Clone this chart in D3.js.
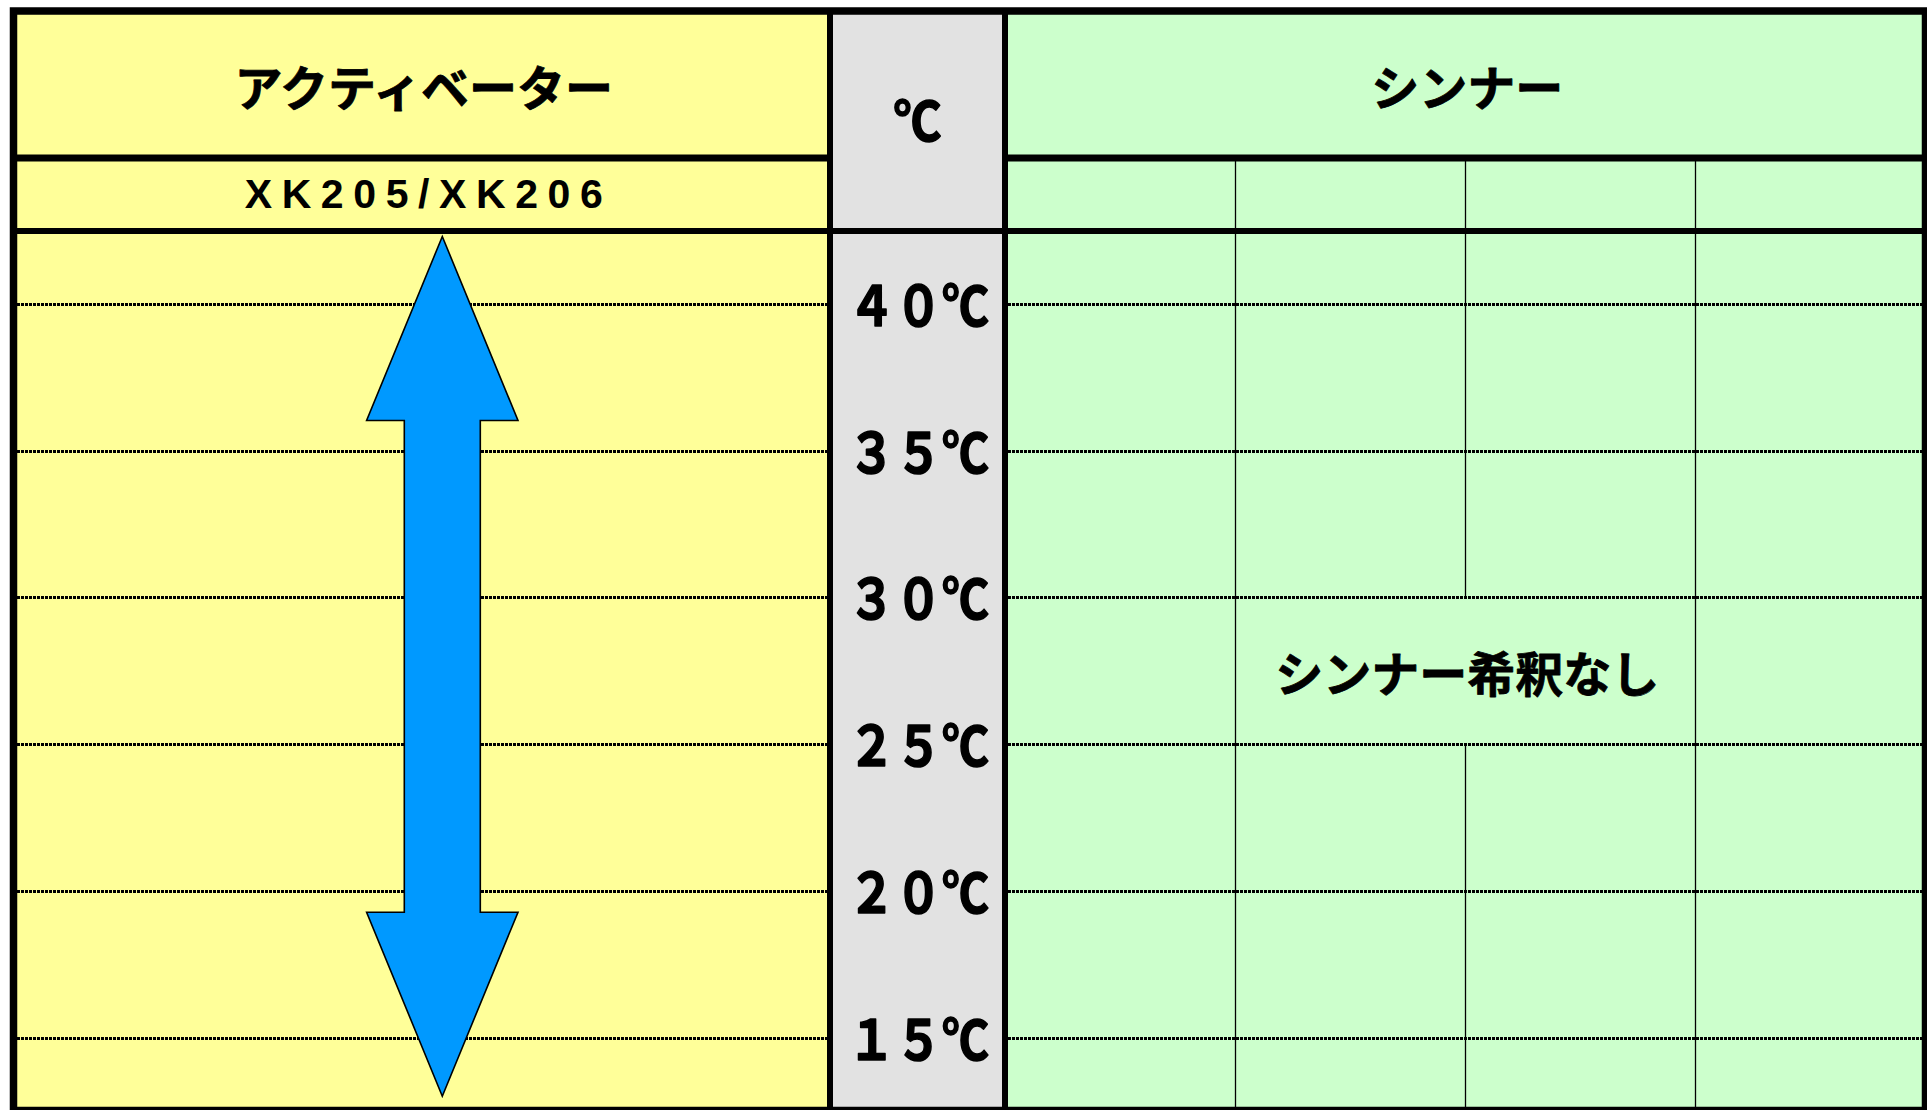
<!DOCTYPE html>
<html lang="ja">
<head>
<meta charset="utf-8">
<script src="https://cdn.jsdelivr.net/npm/d3@7"></script>
<style>
  html, body { margin: 0; padding: 0; background: #ffffff; overflow: hidden; }
  svg { display: block; }
</style>
</head>
<body>
<svg id="chart" width="1927" height="1110"></svg>
<script>
// ---------------- data ----------------
const headerLabels   = ["アクティベーター", "℃", "シンナー"];
const activatorCodes = ["XK205/XK206"];
const tempTicks      = [40, 35, 30, 25, 20, 15];
const tickLabels     = ["４０℃", "３５℃", "３０℃", "２５℃", "２０℃", "１５℃"];
const activatorRange = [13, 42.3];          // usable temperature range (arrow)
const thinnerColumns = ["", "", "", ""];     // four (empty) thinner sub-columns
const thinnerNote    = "シンナー希釈なし";
const thinnerNoteCols  = [1, 2];             // merged sub-columns
const thinnerNoteTemps = [30, 25];           // merged temperature band

// ---------------- layout ----------------
const W = 1927, H = 1110;
const box = { left: 13.5, top: 11, right: 1925.5, bottom: 1110.5 };
const colA = 830, colB = 1005;               // column dividers
const hdr1 = 158, hdr2 = 231;                // header row dividers
const colors = { yellow: "#FFFF99", gray: "#E2E2E2", green: "#CCFFCC", blue: "#0099FF", ink: "#000000" };
const jp = "'Noto Sans CJK JP', 'Noto Sans CJK SC', sans-serif";
const latin = "'Liberation Sans', Arial, sans-serif";

const svg = d3.select("#chart");

// temperature scale (vertical)
const y = d3.scaleLinear().domain([15, 40]).range([1037.5, 304]);
// thinner sub-column scale
const xThin = d3.scaleBand().domain(d3.range(thinnerColumns.length)).range([colB, box.right]).padding(0);

// ---------------- backgrounds ----------------
svg.append("rect").attr("x", box.left).attr("y", box.top).attr("width", colA - box.left).attr("height", box.bottom - box.top).attr("fill", colors.yellow);
svg.append("rect").attr("x", colA).attr("y", box.top).attr("width", colB - colA).attr("height", box.bottom - box.top).attr("fill", colors.gray);
svg.append("rect").attr("x", colB).attr("y", box.top).attr("width", box.right - colB).attr("height", box.bottom - box.top).attr("fill", colors.green);

// ---------------- thin vertical lines in thinner area ----------------
const mergeX0 = xThin(thinnerNoteCols[0]), mergeX1 = xThin(thinnerNoteCols[1]) + xThin.bandwidth();
const mergeY0 = y(thinnerNoteTemps[0]), mergeY1 = y(thinnerNoteTemps[1]);
const innerIdx = d3.range(1, thinnerColumns.length);
const segs = [];
innerIdx.forEach(i => {
  const x = Math.round(xThin(i)) + 0.5;
  if (x > mergeX0 + 1 && x < mergeX1 - 1) {
    segs.push({ x, y0: hdr1, y1: mergeY0 });
    segs.push({ x, y0: mergeY1, y1: box.bottom });
  } else {
    segs.push({ x, y0: hdr1, y1: box.bottom });
  }
});
svg.append("g").selectAll("line").data(segs).join("line")
  .attr("x1", d => d.x).attr("x2", d => d.x)
  .attr("y1", d => d.y0).attr("y2", d => d.y1)
  .attr("stroke", colors.ink).attr("stroke-width", 1.3);

// ---------------- dotted temperature lines ----------------
const dotSpans = [[box.left + 3.5, colA - 3], [colB + 3, box.right - 3.5]];
const dotted = svg.append("g");
const snapY = d => Math.round(y(d)) + 0.5;
dotSpans.forEach(span => {
  dotted.append("g").selectAll("line").data(tempTicks).join("line")
    .attr("x1", span[0]).attr("x2", span[1])
    .attr("y1", snapY).attr("y2", snapY)
    .attr("stroke", colors.ink).attr("stroke-width", 3)
    .attr("stroke-dasharray", "3,1");
});

// ---------------- arrow (activator usable range) ----------------
const ax = 442.3, headLen = 184, headHalf = 75.7, shaftHalf = 38;
const tTop = y(activatorRange[1]), tBot = y(activatorRange[0]);
const pts = [
  [ax, tTop], [ax + headHalf, tTop + headLen], [ax + shaftHalf, tTop + headLen],
  [ax + shaftHalf, tBot - headLen], [ax + headHalf, tBot - headLen], [ax, tBot],
  [ax - headHalf, tBot - headLen], [ax - shaftHalf, tBot - headLen],
  [ax - shaftHalf, tTop + headLen], [ax - headHalf, tTop + headLen]
];
svg.append("path")
  .attr("d", d3.line()(pts) + "Z")
  .attr("fill", colors.blue).attr("stroke", colors.ink).attr("stroke-width", 1.6)
  .attr("stroke-linejoin", "miter");

// ---------------- structural lines ----------------
const thick = svg.append("g").attr("stroke", colors.ink);
thick.append("line").attr("x1", box.left).attr("x2", colA).attr("y1", hdr1).attr("y2", hdr1).attr("stroke-width", 7);
thick.append("line").attr("x1", colB).attr("x2", box.right).attr("y1", hdr1).attr("y2", hdr1).attr("stroke-width", 7);
thick.append("line").attr("x1", box.left).attr("x2", box.right).attr("y1", hdr2).attr("y2", hdr2).attr("stroke-width", 6);
thick.append("line").attr("x1", colA).attr("x2", colA).attr("y1", box.top).attr("y2", box.bottom).attr("stroke-width", 6);
thick.append("line").attr("x1", colB).attr("x2", colB).attr("y1", box.top).attr("y2", box.bottom).attr("stroke-width", 6);
svg.append("rect")
  .attr("x", box.left).attr("y", box.top)
  .attr("width", box.right - box.left).attr("height", box.bottom - box.top)
  .attr("fill", "none").attr("stroke", colors.ink).attr("stroke-width", 7.5);

// ---------------- texts ----------------
const txt = svg.append("g").attr("fill", colors.ink);

function heavy(sel, w) {
  return sel.attr("stroke", colors.ink).attr("stroke-width", w).attr("stroke-linejoin", "round");
}

// header titles
heavy(txt.append("text").text(headerLabels[0])
  .attr("x", (box.left + colA) / 2 + 2).attr("y", 85)
  .attr("text-anchor", "middle").attr("dominant-baseline", "central")
  .attr("font-family", jp).attr("font-weight", 700).attr("font-size", 48), 0.8);
heavy(txt.append("text").text(headerLabels[2])
  .attr("x", (colB + box.right) / 2 + 2).attr("y", 85)
  .attr("text-anchor", "middle").attr("dominant-baseline", "central")
  .attr("font-family", jp).attr("font-weight", 700).attr("font-size", 48), 0.8);

// ℃ header (gray column)
heavy(txt.append("g").attr("transform", `translate(${(colA + colB) / 2},118) scale(1,1.12)`)
  .append("text").text(headerLabels[1])
  .attr("text-anchor", "middle").attr("dominant-baseline", "central")
  .attr("font-family", jp).attr("font-weight", 700).attr("font-size", 48), 1.4);

// activator product codes
const ls = 9.6;
txt.selectAll("text.code").data(activatorCodes).join("text").attr("class", "code")
  .text(d => d)
  .attr("x", (box.left + colA) / 2 + 2 + ls / 2).attr("y", 194)
  .attr("text-anchor", "middle").attr("dominant-baseline", "central")
  .attr("font-family", latin).attr("font-weight", 700).attr("font-size", 41)
  .attr("letter-spacing", ls);

// temperature tick labels
heavy(txt.append("g").selectAll("g").data(tempTicks).join("g")
  .attr("transform", d => `translate(${(colA + colB) / 2 + 1},${y(d) - 1.5}) scale(0.98,1.14)`)
  .append("text").text((d, i) => tickLabels[i])
  .attr("text-anchor", "middle").attr("dominant-baseline", "central")
  .attr("font-family", jp).attr("font-weight", 700).attr("font-size", 48), 1.4);

// thinner note in merged cell
heavy(txt.append("text").text(thinnerNote)
  .attr("x", (mergeX0 + mergeX1) / 2 + 2).attr("y", (mergeY0 + mergeY1) / 2)
  .attr("text-anchor", "middle").attr("dominant-baseline", "central")
  .attr("font-family", jp).attr("font-weight", 700).attr("font-size", 48), 0.8);
</script>
</body>
</html>
